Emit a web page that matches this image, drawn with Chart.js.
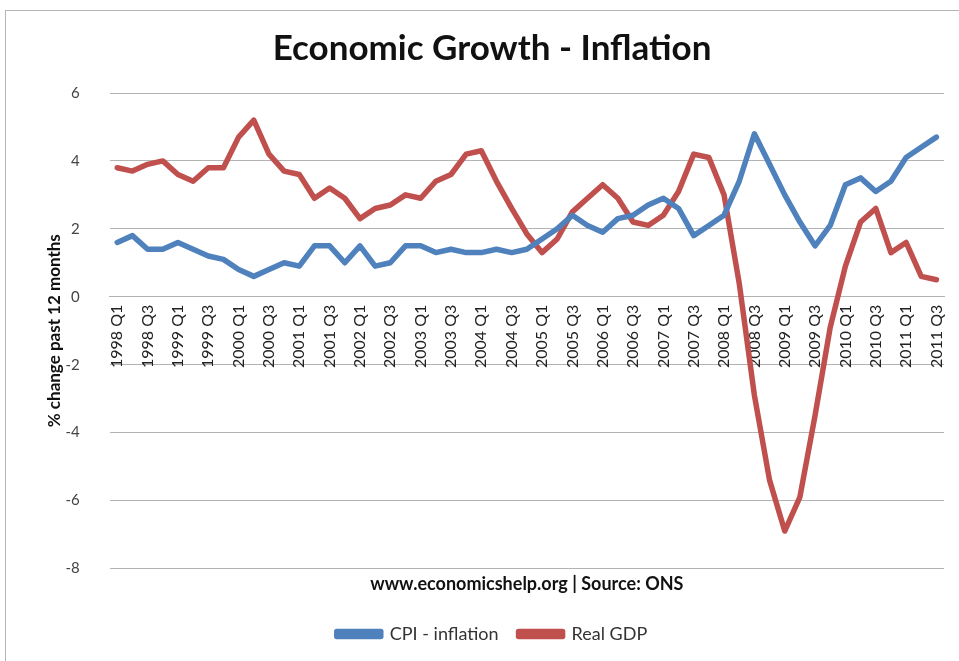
<!DOCTYPE html>
<html>
<head>
<meta charset="utf-8">
<script src="https://cdn.jsdelivr.net/npm/chart.js@4.4.1/dist/chart.umd.min.js"></script>
<style>
  body { margin: 0; overflow: hidden; background: #fff; }
  #frame { position: absolute; left: 5px; top: 10px; width: 1000px; height: 700px; border: 1px solid #b5b5b5; }
  #wrap { position: absolute; left: 0; top: 0; width: 975px; height: 661px; }
</style>
</head>
<body>
<div id="frame"></div>
<div id="wrap"><canvas id="growth-chart"></canvas></div>
<script>
    var quarters = [];
    var years = [1998, 1999, 2000, 2001, 2002, 2003, 2004, 2005, 2006, 2007, 2008, 2009, 2010, 2011];
    years.forEach(function (y) {
        ["Q1", "Q2", "Q3", "Q4"].forEach(function (q) {
            if (!(y === 2011 && q === "Q4")) quarters.push(y + " " + q);
        });
    });

    var cpiInflation = [1.6, 1.8, 1.4, 1.4, 1.6, 1.4, 1.2, 1.1, 0.8, 0.6, 0.8, 1.0,
        0.9, 1.5, 1.5, 1.0, 1.5, 0.9, 1.0, 1.5, 1.5, 1.3, 1.4, 1.3,
        1.3, 1.4, 1.3, 1.4, 1.7, 2.0, 2.4, 2.1, 1.9, 2.3, 2.4, 2.7,
        2.9, 2.6, 1.8, 2.1, 2.4, 3.4, 4.8, 3.9, 3.0, 2.2, 1.5, 2.1,
        3.3, 3.5, 3.1, 3.4, 4.1, 4.4, 4.7];

    var realGdp = [3.8, 3.7, 3.9, 4.0, 3.6, 3.4, 3.8, 3.8, 4.7, 5.2, 4.2, 3.7,
        3.6, 2.9, 3.2, 2.9, 2.3, 2.6, 2.7, 3.0, 2.9, 3.4, 3.6, 4.2,
        4.3, 3.4, 2.6, 1.85, 1.3, 1.7, 2.5, 2.9, 3.3, 2.9, 2.2, 2.1,
        2.4, 3.1, 4.2, 4.1, 3.0, 0.4, -2.9, -5.4, -6.9, -5.9, -3.5, -0.9,
        0.9, 2.2, 2.6, 1.3, 1.6, 0.6, 0.5];

    var yMin = -8, yMax = 6, yStep = 2;

    var blue = "#4f81bd";
    var red = "#c0504d";
    var font = "Lato, 'Open Sans', sans-serif";

    var ctx = document.getElementById("growth-chart").getContext("2d");

    var growthChart = new Chart(ctx, {
        type: "line",
        data: {
            labels: quarters,
            datasets: [
                {
                    label: "CPI - inflation",
                    data: cpiInflation,
                    borderColor: blue,
                    backgroundColor: blue,
                    borderWidth: 5.5,
                    pointRadius: 0,
                    tension: 0,
                    borderJoinStyle: "round",
                    borderCapStyle: "round",
                },
                {
                    label: "Real GDP",
                    data: realGdp,
                    borderColor: red,
                    backgroundColor: red,
                    borderWidth: 5.5,
                    pointRadius: 0,
                    tension: 0,
                    borderJoinStyle: "round",
                    borderCapStyle: "round",
                },
            ],
        },
        options: {
            responsive: true,
            maintainAspectRatio: false,
            animation: false,
            events: [],
            layout: { padding: { top: 18, bottom: 8, left: 40, right: 31 } },
            scales: {
                x: {
                    offset: true,
                    position: { y: 0 },
                    grid: { display: false, drawTicks: false },
                    border: { display: true, color: "#b3b3b3" },
                    ticks: {
                        autoSkip: false,
                        minRotation: 90,
                        maxRotation: 90,
                        padding: 8,
                        color: "#222",
                        font: { family: font, size: 16 },
                        callback: function (value, index) {
                            return index % 2 === 0 ? quarters[index] : "";
                        },
                    },
                },
                y: {
                    min: yMin,
                    max: yMax,
                    ticks: {
                        stepSize: yStep,
                        padding: 30,
                        color: "#444",
                        font: { family: font, size: 15 },
                    },
                    grid: { color: "#b3b3b3", drawTicks: false },
                    border: { display: false },
                    title: {
                        display: true,
                        text: "% change past 12 months",
                        color: "#111",
                        font: { family: font, size: 17, weight: "bold" },
                        padding: { top: 4, bottom: -29 },
                    },
                },
            },
            plugins: {
                title: {
                    display: true,
                    text: "Economic Growth - Inflation",
                    color: "#111",
                    font: { family: font, size: 35, weight: "bold" },
                    padding: { top: 10, bottom: 23 },
                },
                subtitle: {
                    display: true,
                    position: "bottom",
                    fullSize: false,
                    weight: 500,
                    text: "www.economicshelp.org | Source: ONS",
                    color: "#111",
                    font: { family: font, size: 18, weight: "bold" },
                    padding: { top: 5, bottom: 10 },
                },
                legend: {
                    position: "bottom",
                    weight: 2000,
                    labels: {
                        boxWidth: 44,
                        boxHeight: 5,
                        color: "#333",
                        font: { family: font, size: 18 },
                        padding: 20,
                    },
                },
                tooltip: { enabled: false },
            },
        },
    });
</script>
</body>
</html>
